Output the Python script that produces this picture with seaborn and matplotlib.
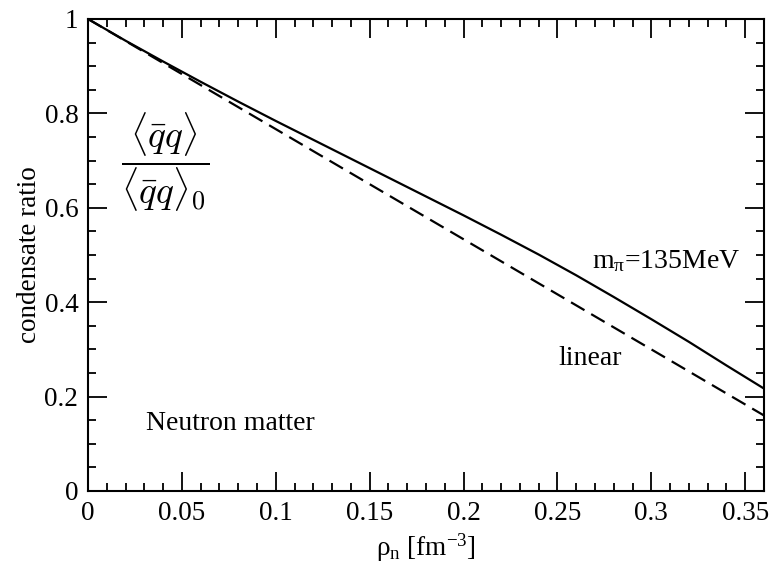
import numpy as np
import pandas as pd
import matplotlib
matplotlib.use("Agg")
import matplotlib.pyplot as plt
from matplotlib.ticker import FixedLocator, MultipleLocator, FixedFormatter
import seaborn as sns

# ---- data ----
rho_full = [0.00, 0.02, 0.04, 0.06, 0.08, 0.10, 0.12, 0.14, 0.16, 0.18,
            0.20, 0.22, 0.24, 0.26, 0.28, 0.30, 0.32, 0.34, 0.36]
ratio_full = [1.000, 0.954, 0.910, 0.867, 0.825, 0.784, 0.744, 0.704, 0.664, 0.624,
              0.584, 0.543, 0.501, 0.457, 0.411, 0.364, 0.316, 0.266, 0.217]
rho_linear = [0.00, 0.36]
ratio_linear = [1.000, 0.160]

x_ticks = [0, 0.05, 0.1, 0.15, 0.2, 0.25, 0.3, 0.35]
x_tick_labels = ["0", "0.05", "0.1", "0.15", "0.2", "0.25", "0.3", "0.35"]
y_ticks = [0, 0.2, 0.4, 0.6, 0.8, 1.0]
y_tick_labels = ["0", "0.2", "0.4", "0.6", "0.8", "1"]

df_full = pd.DataFrame({"rho": rho_full, "ratio": ratio_full})
df_lin = pd.DataFrame({"rho": rho_linear, "ratio": ratio_linear})

sns.set_theme(style="ticks")
plt.rcParams["font.family"] = ["Liberation Serif", "DejaVu Serif"]
plt.rcParams["mathtext.fontset"] = "custom"
plt.rcParams["mathtext.rm"] = "Liberation Serif"
plt.rcParams["mathtext.it"] = "Liberation Serif:italic"
plt.rcParams["text.color"] = "black"
plt.rcParams["axes.labelcolor"] = "black"
plt.rcParams["xtick.color"] = "black"
plt.rcParams["ytick.color"] = "black"

fig = plt.figure(figsize=(7.82, 5.67), dpi=100)
ax = fig.add_axes([88 / 782, 1 - 491 / 567, (764 - 88) / 782, (491 - 19) / 567])

sns.lineplot(data=df_full, x="rho", y="ratio", ax=ax, color="black", lw=1.6)
sns.lineplot(data=df_lin, x="rho", y="ratio", ax=ax, color="black", lw=1.6,
             linestyle=(0, (7, 3.5)))

ax.set_xlim(0, 0.36)
ax.set_ylim(0, 1)
ax.xaxis.set_major_locator(FixedLocator(x_ticks))
ax.xaxis.set_major_formatter(FixedFormatter(x_tick_labels))
ax.xaxis.set_minor_locator(MultipleLocator(0.01))
ax.yaxis.set_major_locator(FixedLocator(y_ticks))
ax.yaxis.set_major_formatter(FixedFormatter(y_tick_labels))
ax.yaxis.set_minor_locator(MultipleLocator(0.05))

ax.tick_params(which="major", direction="in", length=14, width=1.3,
               top=True, right=True, labelsize=19.5, pad=7)
ax.tick_params(which="minor", direction="in", length=5.5, width=1.3,
               top=True, right=True)
for s in ax.spines.values():
    s.set_linewidth(1.5)
    s.set_color("black")
    s.set_visible(True)

ax.set_xlabel(r"$\mathrm{\rho_n}$ [fm$^{\mathrm{-3}}$]", fontsize=19.5, labelpad=4)
ax.set_ylabel("condensate ratio", fontsize=19.5, labelpad=2)

ax.text(0.041, 0.697, r"$\dfrac{\langle\bar{q}q\rangle}{\langle\bar{q}q\rangle_0}$",
        fontsize=27, ha="center", va="center", math_fontfamily="cm")
ax.text(0.0756, 0.144, "Neutron matter", fontsize=20, ha="center", va="center")
ax.text(0.2673, 0.280, "linear", fontsize=20, ha="center", va="center")
ax.text(0.3078, 0.472, r"m$_{\mathrm{\pi}}$=135MeV", fontsize=20, ha="center",
        va="baseline")

fig.savefig("out.png", dpi=100)
